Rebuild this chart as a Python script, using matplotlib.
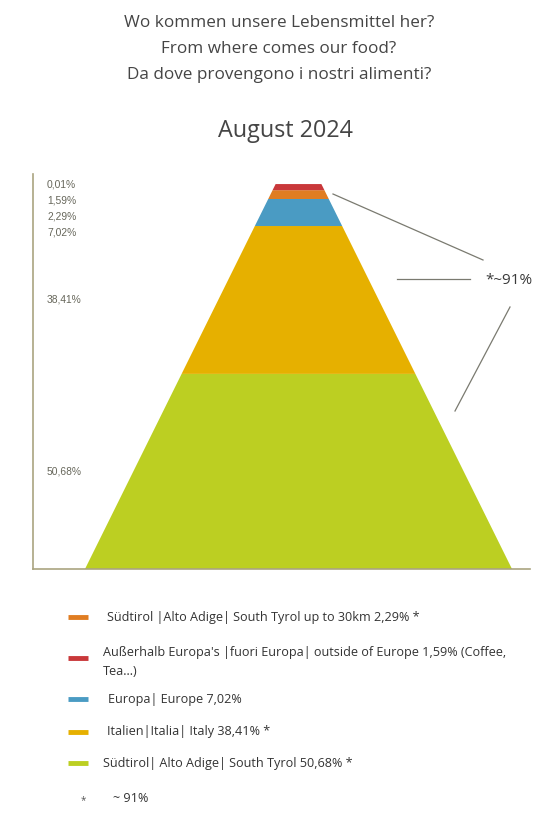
import matplotlib.pyplot as plt
from matplotlib.lines import Line2D

# data (bottom -> top of the pyramid)
shares = [50.68, 38.41, 7.02, 2.29, 1.59, 0.01]
share_labels = ["50,68%", "38,41%", "7,02%", "2,29%", "1,59%", "0,01%"]
colors = ["#bccf22", "#e6b000", "#4a9bc3", "#e07d22", "#c9383a", "#c9383a"]

legend_labels = [
    "Südtirol |Alto Adige| South Tyrol up to 30km 2,29% *",
    "Außerhalb Europa's |fuori Europa| outside of Europe 1,59% (Coffee,\nTea...)",
    "Europa| Europe 7,02%",
    "Italien|Italia| Italy 38,41% *",
    "Südtirol| Alto Adige| South Tyrol 50,68% *",
]
legend_colors = ["#e07d22", "#c9383a", "#4a9bc3", "#e6b000", "#bccf22"]
star_note = "~ 91%"
callout = "*~91%"

W, H = 558, 825
fig = plt.figure(figsize=(W / 100, H / 100), dpi=100)

def px(x, y):
    return x / W, 1 - y / H

TXT = "#454545"
SANS = ["Open Sans", "DejaVu Sans"]

# titles
for y, s in [(23, "Wo kommen unsere Lebensmittel her?"),
             (49, "From where comes our food?"),
             (75, "Da dove provengono i nostri alimenti?")]:
    fig.text(*px(279, y), s, ha="center", va="center", fontsize=12.3,
             color=TXT, family=SANS)
fig.text(*px(285, 131), "August 2024", ha="center", va="center",
         fontsize=16.8, color=TXT, family=SANS)

# axes: y in percent, x in pixel-like units
ax_l, ax_r, ax_b, ax_t = 33, 530, 569, 174.4
ax = fig.add_axes([ax_l / W, 1 - ax_b / H, (ax_r - ax_l) / W, (ax_b - ax_t) / H])
ax.set_xlim(0, ax_r - ax_l)
ax.set_ylim(0, 102.5)
ax.set_xticks([]); ax.set_yticks([])
for s in ["top", "right"]:
    ax.spines[s].set_visible(False)
for s in ["left", "bottom"]:
    ax.spines[s].set_color("#aaa480")
    ax.spines[s].set_linewidth(1.2)

# truncated triangle geometry
cx = 298.5 - ax_l
half_bottom = 213.5
apex = 112.0

def hw(y):
    return half_bottom * (1 - y / apex)

cum = 0
centers = []
for v, c in zip(shares, colors):
    y0, y1 = cum, cum + v
    ax.fill([cx - hw(y0), cx + hw(y0), cx + hw(y1), cx - hw(y1)],
            [y0, y0, y1, y1], color=c, lw=0)
    centers.append((y0 + y1) / 2)
    cum = y1

# value labels, pushed down from the top so they do not overlap
gap = 4.2
pos = []
prev = None
for c in reversed(centers):
    p = c if prev is None else min(c, prev - gap)
    pos.append(p)
    prev = p
pos = pos[::-1]
for p, lab in zip(pos, share_labels):
    ax.text(14, p, lab, ha="left", va="center", fontsize=7.4,
            color="#66665a", family=["Liberation Sans", "DejaVu Sans"])

# callout lines for the ~91% group
for (x0, y0), (x1, y1) in [((333, 194), (483, 260)),
                           ((397, 279), (470, 279)),
                           ((510, 307), (455, 411))]:
    a, b = px(x0, y0)
    c, d = px(x1, y1)
    fig.add_artist(Line2D([a, c], [b, d], color="#7a7a70", lw=0.9))
fig.text(*px(485, 280), callout, ha="left", va="center", fontsize=11,
         color="#3a3a3a", family=SANS)

# legend
leg_y = [617, 658, 699, 732, 763]
txt_x = [107, 103, 108, 107, 103]
for y, tx, lab, c in zip(leg_y, txt_x, legend_labels, legend_colors):
    a, b = px(68, y)
    e, _ = px(88, y)
    fig.add_artist(Line2D([a, e], [b, b], color=c, lw=3.5, solid_capstyle="butt"))
    fig.text(*px(tx, y + (4 if "\n" in lab else 0)), lab, ha="left",
             va="center", fontsize=9.1, color="#333333", family=SANS,
             linespacing=1.6)
fig.text(*px(83, 801), "*", ha="center", va="center", fontsize=7,
         color="#555555", family=SANS)
fig.text(*px(113, 798), star_note, ha="left", va="center", fontsize=9.1,
         color="#333333", family=SANS)

fig.savefig("out.png", dpi=100)
